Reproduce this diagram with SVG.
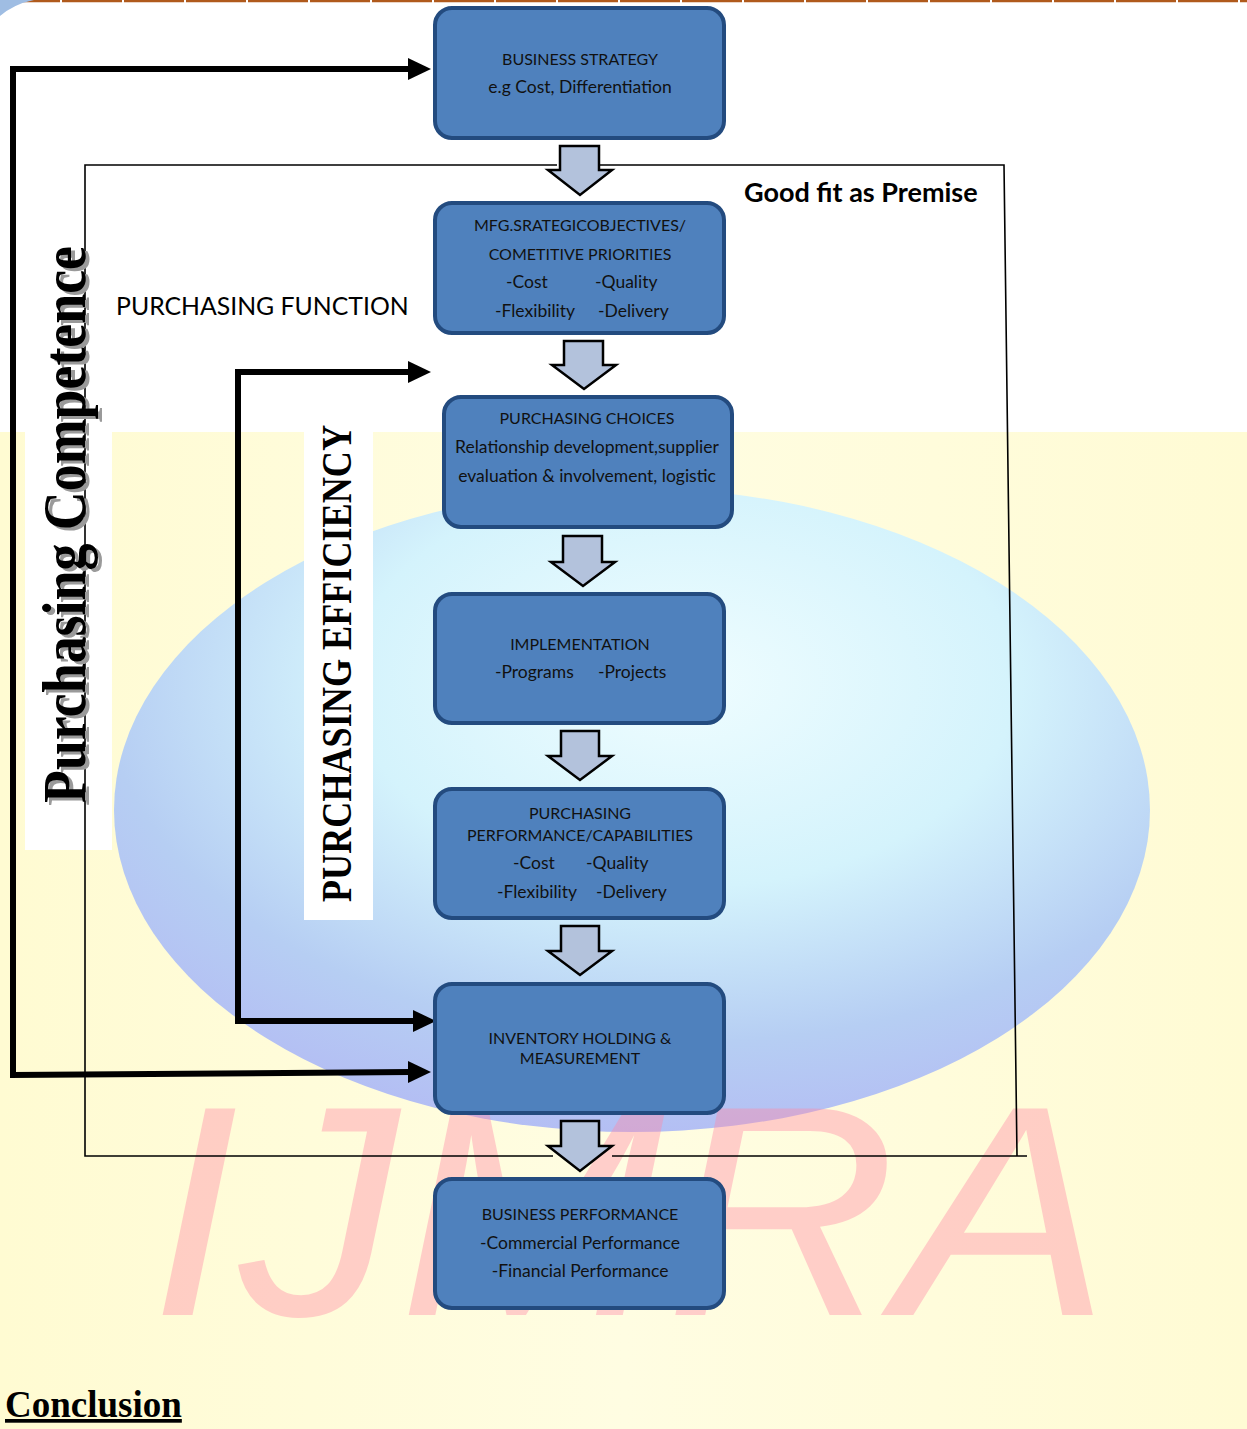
<svg xmlns="http://www.w3.org/2000/svg" width="1247" height="1429" viewBox="0 0 1247 1429">
<defs>
<style>
.box{fill:#4f81bd;stroke:#234b7f;stroke-width:4}
.bt{font-family:Lato,"Open Sans",sans-serif;font-size:16px;fill:#111}
.bm{font-family:Lato,"Open Sans",sans-serif;font-size:17.5px;fill:#111}
.c{text-anchor:middle}
.frame{fill:none;stroke:#000;stroke-width:1.6}
.thick{fill:none;stroke:#000;stroke-width:6}
.head{fill:#000}
.blk{fill:#b3c2dc;stroke:#000;stroke-width:2.5;stroke-linejoin:miter}
.vt{font-family:"Liberation Serif","Times New Roman",serif;font-weight:bold}
</style>
<path id="ahead" d="M-23,-11 L0,0 L-23,11 Z"/>
<linearGradient id="yel" x1="0" y1="0" x2="1" y2="0">
<stop offset="0" stop-color="#fffbd2"/>
<stop offset="0.5" stop-color="#fffde2"/>
<stop offset="1" stop-color="#fffbd4"/>
</linearGradient>
<radialGradient id="globe" cx="0.55" cy="0.3" r="0.8">
<stop offset="0" stop-color="#effdff"/>
<stop offset="0.4" stop-color="#d4f3fc"/>
<stop offset="0.7" stop-color="#b6cef3"/>
<stop offset="1" stop-color="#b2b4f4"/>
</radialGradient>
</defs>

<g id="background">
<rect x="0" y="0" width="1247" height="1429" fill="#ffffff"/>
<rect x="0" y="432" width="1247" height="997" fill="url(#yel)"/>
<ellipse cx="632" cy="810" rx="518" ry="322" fill="url(#globe)"/>
<text x="150" y="1315" font-family="Liberation Sans, Arial, sans-serif" font-style="italic" font-size="300" fill="#ff8aa8" opacity="0.4" textLength="960" lengthAdjust="spacingAndGlyphs">IJMRA</text>
<line x1="0" y1="1" x2="1247" y2="1" stroke="#b05a1c" stroke-width="2.5" stroke-dasharray="60 2"/>
<path d="M0,0 H34 Q14,4 0,16 Z" fill="#9fbde3"/>
</g>

<g id="label-backgrounds">
<rect x="25" y="237" width="87" height="613" fill="#ffffff"/>
<rect x="304" y="425" width="69" height="495" fill="#ffffff"/>
</g>

<g id="connectors">
<polyline class="frame" points="557,165 85,165 85,1156 553,1156"/>
<polyline class="frame" points="600,165 1004,165 1017,1156"/>
<line class="frame" x1="612" y1="1156" x2="1027" y2="1156"/>
<polyline class="thick" points="410,69 13,69 13,1075 410,1072"/>
<use href="#ahead" class="head" x="431" y="69"/>
<use href="#ahead" class="head" x="431" y="1072"/>
<polyline class="thick" points="410,372 238,372 238,1021 415,1021"/>
<use href="#ahead" class="head" x="431" y="372"/>
<use href="#ahead" class="head" x="436" y="1021"/>
<path class="blk" d="M560,146 H599 V170 H612 L580,195 L548,170 H560 Z"/>
<path class="blk" d="M564,341 H603 V365 H616 L584,389 L552,365 H564 Z"/>
<path class="blk" d="M563,536 H602 V562 H615 L583,586 L551,562 H563 Z"/>
<path class="blk" d="M561,731 H599 V756 H612 L580,780 L548,756 H561 Z"/>
<path class="blk" d="M561,926 H599 V951 H612 L580,975 L548,951 H561 Z"/>
<path class="blk" d="M561,1121 H599 V1146 H612 L580,1171 L548,1146 H561 Z"/>
</g>

<g id="node-business-strategy">
<rect class="box" x="435" y="8" width="289" height="130" rx="17"/>
<text class="bt c" x="580" y="65">BUSINESS STRATEGY</text>
<text class="bm c" x="580" y="93">e.g Cost, Differentiation</text>
</g>

<g id="node-mfg-objectives">
<rect class="box" x="435" y="203" width="289" height="130" rx="17"/>
<text class="bt c" x="580" y="231">MFG.SRATEGICOBJECTIVES/</text>
<text class="bt c" x="580" y="260">COMETITIVE PRIORITIES</text>
<text class="bm" x="506" y="288">-Cost</text>
<text class="bm" x="595" y="288">-Quality</text>
<text class="bm" x="495" y="317">-Flexibility</text>
<text class="bm" x="598" y="317">-Delivery</text>
</g>

<g id="node-purchasing-choices">
<rect class="box" x="444" y="397" width="288" height="130" rx="17"/>
<text class="bt c" x="587" y="424">PURCHASING CHOICES</text>
<text class="bm c" x="587" y="453">Relationship development,supplier</text>
<text class="bm c" x="587" y="482">evaluation &amp; involvement, logistic</text>
</g>

<g id="node-implementation">
<rect class="box" x="435" y="594" width="289" height="129" rx="17"/>
<text class="bt c" x="580" y="650">IMPLEMENTATION</text>
<text class="bm" x="495" y="678">-Programs</text>
<text class="bm" x="598" y="678">-Projects</text>
</g>

<g id="node-purchasing-performance">
<rect class="box" x="435" y="789" width="289" height="129" rx="17"/>
<text class="bt c" x="580" y="819">PURCHASING</text>
<text class="bt c" x="580" y="841">PERFORMANCE/CAPABILITIES</text>
<text class="bm" x="513" y="869">-Cost</text>
<text class="bm" x="586" y="869">-Quality</text>
<text class="bm" x="497" y="898">-Flexibility</text>
<text class="bm" x="596" y="898">-Delivery</text>
</g>

<g id="node-inventory">
<rect class="box" x="435" y="984" width="289" height="129" rx="17"/>
<text class="bt c" x="580" y="1044">INVENTORY HOLDING &amp;</text>
<text class="bt c" x="580" y="1064">MEASUREMENT</text>
</g>

<g id="node-business-performance">
<rect class="box" x="435" y="1179" width="289" height="129" rx="17"/>
<text class="bt c" x="580" y="1220">BUSINESS PERFORMANCE</text>
<text class="bm c" x="580" y="1249">-Commercial Performance</text>
<text class="bm c" x="580" y="1277">-Financial Performance</text>
</g>

<g id="label-good-fit">
<text x="744" y="202" font-family="Lato,'Open Sans',sans-serif" font-weight="bold" font-size="27" fill="#000">Good fit as Premise</text>
</g>

<g id="label-purchasing-function">
<text x="116" y="315" font-family="Lato,'Open Sans',sans-serif" font-size="24.8" fill="#000">PURCHASING FUNCTION</text>
</g>

<g id="label-purchasing-efficiency">
<text class="vt" transform="translate(351,902) rotate(-90)" x="0" y="0" font-size="43" fill="#000" textLength="477" lengthAdjust="spacingAndGlyphs">PURCHASING EFFICIENCY</text>
</g>

<g id="label-purchasing-competence">
<text class="vt" transform="translate(89,806) rotate(-90)" x="0" y="0" font-size="61" fill="#9a9a9a" textLength="557" lengthAdjust="spacingAndGlyphs">Purchasing Competence</text>
<text class="vt" transform="translate(85,803) rotate(-90)" x="0" y="0" font-size="61" fill="#000" textLength="557" lengthAdjust="spacingAndGlyphs">Purchasing Competence</text>
</g>

<g id="label-conclusion">
<text x="5" y="1417" font-family="'Liberation Serif','Times New Roman',serif" font-weight="bold" font-size="37" fill="#000" text-decoration="underline">Conclusion</text>
</g>
</svg>
